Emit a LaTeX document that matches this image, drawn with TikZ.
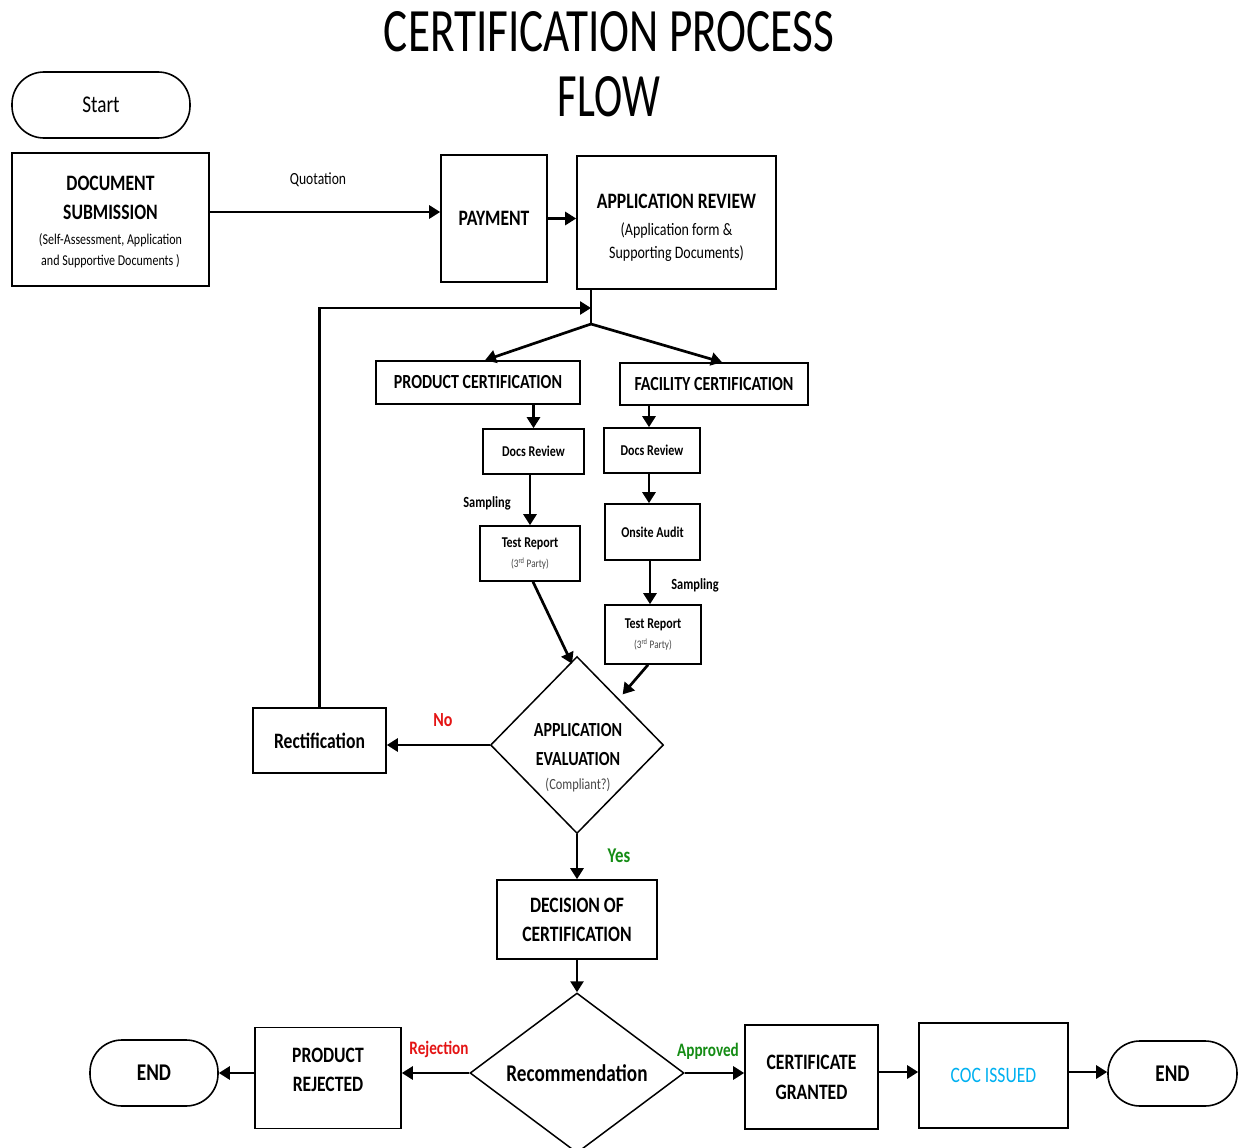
\documentclass[tikz,border=0pt]{standalone}
\usepackage{fontspec}
\setmainfont{Carlito}[FakeStretch=0.8]
\newfontfamily\titlefont{Carlito}
\usepackage{graphicx}
\usetikzlibrary{shapes.geometric,arrows.meta,calc}
\definecolor{myred}{RGB}{228,20,20}
\definecolor{mygreen}{RGB}{20,140,20}
\definecolor{mycyan}{RGB}{0,176,240}
\definecolor{subgray}{RGB}{70,70,70}
\newcommand{\fs}[2]{\fontsize{#1}{#2}\selectfont}
\begin{document}
\begin{tikzpicture}[x=1pt,y=-1pt,
  box/.style={draw,line width=1.6pt,inner sep=0pt,align=center},
  term/.style={box,rounded corners=32pt},
  dia/.style={draw,diamond,line width=1.5pt,inner sep=0pt,align=center},
  arr/.style={line width=2.7pt,-{Triangle[length=11pt,width=13pt]}},
  plain/.style={line width=2.7pt},
  lbl/.style={inner sep=0pt,align=center}]
\useasboundingbox (0,0) rectangle (1243,1148);

% title
\node[inner sep=0pt] (title1) at (609,32) {\resizebox{450pt}{40pt}{\titlefont CERTIFICATION PROCESS}};
\node[inner sep=0pt] (title2) at (609,97) {\resizebox{102pt}{40pt}{\titlefont FLOW}};

% top row
\node[term,minimum width=178pt,minimum height=66pt,font=\fs{24}{28}] (start) at (101,105) {Start};
\node[box,minimum width=197pt,minimum height=133pt,font=\bfseries\fs{22}{29}] (doc) at (110.5,219.5)
  {\rule{0pt}{20pt}DOCUMENT\\SUBMISSION\\[-4pt]{\mdseries\fs{15}{21}(Self-Assessment, Application}\\[-8pt]{\mdseries\fs{15}{21}and Supportive Documents )}};
\node[box,minimum width=106pt,minimum height=127pt,font=\bfseries\fs{22}{28}] (pay) at (494,218.5) {PAYMENT};
\node[box,minimum width=199pt,minimum height=133pt,font=\bfseries\fs{22}{27}] (rev) at (676.5,222.5)
  {\rule{0pt}{26pt}APPLICATION REVIEW\\{\mdseries\fs{17.5}{22}(Application form \&}\\[-4pt]{\mdseries\fs{17.5}{22}Supporting Documents)}};

% certification branches
\node[box,minimum width=204pt,minimum height=43pt,font=\bfseries\fs{20}{24}] (prod) at (478,382.5) {PRODUCT CERTIFICATION};
\node[box,minimum width=188pt,minimum height=42pt,font=\bfseries\fs{20}{24}] (fac) at (714,384) {FACILITY CERTIFICATION};
\node[box,minimum width=101pt,minimum height=45pt,font=\bfseries\fs{15}{20}] (pdocs) at (533.5,451.5) {Docs Review};
\node[box,minimum width=100pt,minimum height=55pt,font=\bfseries\fs{15}{20}] (ptest) at (530,553.5)
  {Test Report\\{\mdseries\fs{11.5}{14}\color{subgray}(3\textsuperscript{rd} Party)}};
\node[box,minimum width=96pt,minimum height=45pt,font=\bfseries\fs{15}{20}] (fdocs) at (652,450.5) {Docs Review};
\node[box,minimum width=95pt,minimum height=56pt,font=\bfseries\fs{15}{20}] (faud) at (652.5,532) {Onsite Audit};
\node[box,minimum width=96pt,minimum height=59pt,font=\bfseries\fs{15}{20}] (ftest) at (653,634.5)
  {Test Report\\{\mdseries\fs{11.5}{14}\color{subgray}(3\textsuperscript{rd} Party)}};

% evaluation
\node[dia,minimum width=173pt,minimum height=177pt] (eval) at (577,745) {};
\node[lbl,font=\bfseries\fs{20}{29}] (evaltxt) at (578,758)
  {APPLICATION\\EVALUATION\\[-5pt]{\mdseries\fs{15.5}{18}\color{subgray}(Compliant?)}};
\node[box,minimum width=133pt,minimum height=65pt,font=\bfseries\fs{22}{28}] (rect) at (319.5,740.5) {Rectification};
\node[box,minimum width=160pt,minimum height=79pt,font=\bfseries\fs{22}{29}] (dec) at (577,919.5) {DECISION OF\\CERTIFICATION};

% bottom row
\node[dia,minimum width=214pt,minimum height=160pt,font=\bfseries\fs{24}{28}] (rec) at (577,1073) {Recommendation};
\node[box,minimum width=146pt,minimum height=101pt,font=\bfseries\fs{22}{29}] (rej) at (328,1078) {PRODUCT\\REJECTED\rule[-16pt]{0pt}{0pt}};
\node[term,minimum width=128pt,minimum height=66pt,font=\bfseries\fs{24}{28}] (end1) at (154,1073) {END};
\node[box,minimum width=133pt,minimum height=104pt,font=\bfseries\fs{22}{30}] (grant) at (811.5,1077) {CERTIFICATE\\GRANTED};
\node[box,minimum width=149pt,minimum height=105pt,font=\fs{22}{26},text=mycyan] (coc) at (993.5,1075.5) {COC ISSUED};
\node[term,minimum width=129pt,minimum height=65pt,font=\bfseries\fs{24}{28}] (end2) at (1172.5,1073.5) {END};

% labels
\node[lbl,font=\fs{17}{20}] (lquot) at (318,180) {Quotation};
\node[lbl,font=\bfseries\fs{15.5}{18}] (lsamp1) at (487,503) {Sampling};
\node[lbl,font=\bfseries\fs{15.5}{18}] (lsamp2) at (695,585) {Sampling};
\node[lbl,font=\bfseries\fs{20}{22},text=myred] (lno) at (443,720) {No};
\node[lbl,font=\bfseries\fs{21}{24},text=mygreen] (lyes) at (619,856) {Yes};
\node[lbl,font=\bfseries\fs{19}{22},text=myred] (lrej) at (439,1049) {Rejection};
\node[lbl,font=\bfseries\fs{19}{22},text=mygreen] (lapp) at (708,1051) {Approved};

% helper coordinates
\coordinate (split) at (591,324);
\coordinate (join) at (591,308);

% connectors
\draw[arr] (doc.east |- 0,212) -- (pay.west |- 0,212);
\draw[arr] (pay.east) -- (rev.west |- pay.east);
\draw[plain] (rev.south -| split) -- (split);
\draw[arr] (split) -- (485,0 |- prod.north);
\draw[arr] (split) -- (722,0 |- fac.north);
\draw[arr] (rect.north) |- (join);
\draw[arr] (prod.south -| pdocs.north) -- (pdocs.north);
\draw[arr] (pdocs.south -| ptest.north) -- (ptest.north);
\draw[arr] ([xshift=3pt]ptest.south) -- ([xshift=-5pt,yshift=-8pt]eval.north);
\draw[arr] (fac.south -| 649,0) -- (649,0 |- fdocs.north);
\draw[arr] (fdocs.south -| 649,0) -- (649,0 |- faud.north);
\draw[arr] (faud.south -| 650,0) -- (650,0 |- ftest.north);
\draw[arr] ([xshift=-5pt]ftest.south) -- ([xshift=2pt,yshift=6pt]eval.north east);
\draw[arr] (eval.west) -- (rect.east |- eval.west);
\draw[arr] (eval.south) -- (dec.north);
\draw[arr] (dec.south) -- (rec.north);
\draw[arr] (rec.west) -- (rej.east |- rec.west);
\draw[arr] (end1.east -| rej.west) -- (end1.east);
\draw[arr] (rec.east) -- (grant.west |- rec.east);
\draw[arr] (grant.east |- 0,1072) -- (coc.west |- 0,1072);
\draw[arr] (coc.east |- 0,1072) -- (end2.west |- 0,1072);
\end{tikzpicture}
\end{document}
